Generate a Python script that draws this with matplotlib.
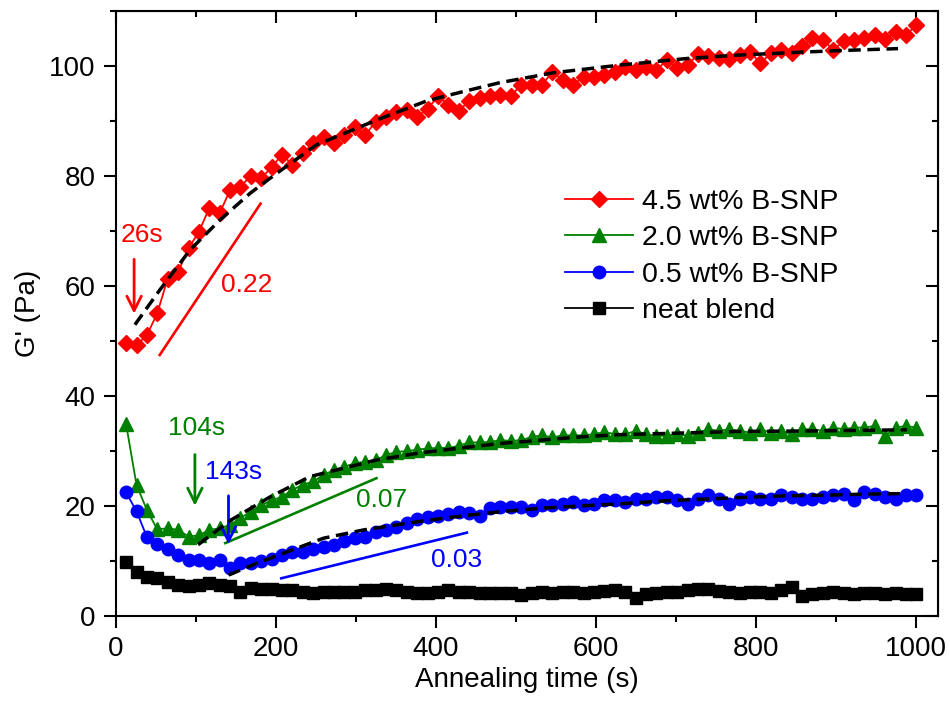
import matplotlib
matplotlib.use("Agg")
import matplotlib.pyplot as plt
from matplotlib.ticker import MultipleLocator

plt.rcParams["font.family"] = ["Liberation Sans", "DejaVu Sans"]

# annealing time of each sweep (s)
TIME = [13, 26, 39, 52, 65, 78, 91, 104, 117, 130, 143, 156, 169, 182, 195,
        208, 221, 234, 247, 260, 273, 286, 299, 312, 325, 338, 351, 364, 377,
        390, 403, 416, 429, 442, 455, 468, 481, 494, 507, 520, 533, 546, 559,
        572, 585, 598, 611, 624, 637, 650, 663, 676, 689, 702, 715, 728, 741,
        754, 767, 780, 793, 806, 819, 832, 845, 858, 871, 884, 897, 910, 923,
        936, 949, 962, 975, 988, 1001]

# storage modulus G' (Pa)
G_45 = [49.6, 49.2, 51.0, 55.0, 61.3, 62.5, 66.8, 69.8, 74.1, 73.2, 77.4, 78.0,
        80.0, 79.5, 81.6, 83.8, 82.0, 84.1, 85.9, 87.1, 85.9, 87.4, 88.9, 87.4,
        89.8, 90.7, 91.6, 92.0, 90.7, 92.2, 94.4, 92.9, 91.8, 93.6, 94.1, 94.4,
        94.7, 94.5, 96.5, 96.5, 96.5, 98.9, 97.4, 96.5, 98.0, 98.0, 98.3, 98.9,
        99.8, 99.2, 99.8, 99.2, 101.0, 99.5, 100.1, 102.1, 101.7, 101.4, 101.3,
        101.9, 102.5, 100.4, 102.3, 102.9, 102.3, 103.5, 105.0, 104.7, 102.9,
        104.4, 104.7, 105.0, 105.6, 104.8, 106.2, 105.6, 107.4]
G_20 = [34.8, 23.8, 19.2, 15.7, 15.9, 15.6, 14.4, 14.6, 15.6, 15.9, 16.5, 17.8,
        18.9, 20.1, 21.0, 21.6, 22.9, 23.8, 24.4, 25.6, 26.5, 27.1, 27.7, 28.0,
        28.3, 29.2, 29.8, 29.9, 30.2, 30.4, 30.5, 30.5, 30.9, 31.5, 31.5, 31.6,
        31.9, 31.8, 31.9, 32.5, 32.8, 32.4, 32.8, 32.8, 32.8, 33.0, 33.4, 33.0,
        33.0, 33.6, 33.0, 32.7, 32.7, 33.0, 32.7, 33.3, 33.9, 33.6, 33.9, 33.6,
        33.3, 33.9, 33.3, 33.6, 33.0, 33.9, 33.9, 33.6, 34.2, 33.9, 34.2, 34.2,
        34.5, 32.7, 34.2, 34.5, 34.2]
G_05 = [22.4, 19.0, 14.3, 13.0, 12.2, 11.0, 10.2, 10.2, 9.5, 10.1, 8.6, 9.5,
        9.6, 9.9, 10.4, 11.0, 11.6, 11.6, 12.2, 12.5, 12.9, 13.5, 14.1, 14.4,
        15.3, 15.6, 16.2, 16.9, 17.5, 17.9, 18.2, 18.5, 18.8, 18.6, 18.1, 19.5,
        19.8, 19.8, 19.8, 19.2, 20.1, 20.1, 20.4, 20.7, 20.1, 20.4, 21.0, 21.0,
        20.7, 21.3, 21.3, 21.6, 21.5, 21.0, 20.4, 21.3, 21.9, 21.3, 20.4, 21.3,
        21.6, 21.3, 21.3, 21.9, 21.6, 21.3, 21.3, 21.6, 21.9, 22.2, 21.0, 22.5,
        22.2, 21.6, 21.3, 21.9, 21.9]
G_NEAT = [9.8, 8.0, 7.1, 6.8, 6.2, 5.6, 5.4, 5.6, 5.9, 5.6, 5.4, 4.4, 5.0, 4.8,
          4.8, 4.7, 4.7, 4.4, 4.2, 4.4, 4.4, 4.4, 4.4, 4.7, 4.7, 4.8, 4.7, 4.4,
          4.2, 4.2, 4.4, 4.7, 4.4, 4.4, 4.1, 4.1, 4.1, 4.2, 3.8, 4.1, 4.3, 4.2,
          4.3, 4.4, 4.2, 4.3, 4.5, 4.6, 4.4, 3.3, 3.9, 4.2, 4.3, 4.4, 4.6, 4.9,
          4.8, 4.5, 4.3, 4.2, 4.4, 4.3, 4.2, 4.6, 5.2, 3.6, 4.0, 4.2, 4.3, 4.1,
          4.0, 4.2, 4.1, 4.0, 4.1, 4.0, 4.0]

# fitted curves
FIT_T_45 = [24, 55, 93, 130, 168, 201, 251, 326, 389, 432, 480, 547, 630, 714,
            776, 864, 918, 978]
FIT_G_45 = [52.9, 59.2, 66.5, 71.9, 76.8, 80.4, 85.6, 90.1, 93.6, 95.2, 96.9,
            98.7, 100.1, 101.3, 101.9, 102.5, 102.8, 103.1]
FIT_T_20 = [103, 143, 193, 243, 326, 380, 426, 480, 530, 580, 626, 680, 776,
            876, 989]
FIT_G_20 = [12.9, 17.3, 21.6, 25.3, 28.3, 29.6, 30.4, 31.3, 31.9, 32.5, 32.9,
            33.1, 33.5, 33.6, 33.8]
FIT_T_05 = [141, 176, 214, 260, 310, 387, 437, 487, 537, 587, 637, 689, 737,
            784, 837, 884, 935, 984]
FIT_G_05 = [7.4, 9.5, 11.6, 14.1, 15.6, 17.3, 18.2, 19.0, 19.6, 20.0, 20.4,
            20.9, 21.2, 21.5, 21.8, 21.9, 22.1, 22.2]

# slope guide lines (t0, G0, t1, G1) and their labels
SLOPE_45 = [55, 47.4, 181, 74.9]
SLOPE_20 = [137, 13.2, 326, 25.0]
SLOPE_05 = [207, 6.8, 439, 15.1]
SLOPE_TEXT = ["0.22", "0.07", "0.03"]
ONSET_TEXT = ["26s", "104s", "143s"]

RED, GREEN, BLUE, BLACK = "#ff0000", "#008000", "#0000ff", "#000000"

fig = plt.figure(figsize=(9.5, 7.1), dpi=100)
ax = fig.add_axes([0.1218, 0.1328, 0.8656, 0.8522])

ax.plot(TIME, G_45, color=RED, marker="D", ms=8.5, lw=1.3, label="4.5 wt% B-SNP", zorder=3)
ax.plot(TIME, G_20, color=GREEN, marker="^", ms=10, lw=1.3, label="2.0 wt% B-SNP", zorder=3)
ax.plot(TIME, G_05, color=BLUE, marker="o", ms=9, lw=1.3, label="0.5 wt% B-SNP", zorder=3)
ax.plot(TIME, G_NEAT, color=BLACK, marker="s", ms=8, lw=1.3, label="neat blend", zorder=3)

for ft, fg in [(FIT_T_45, FIT_G_45), (FIT_T_20, FIT_G_20), (FIT_T_05, FIT_G_05)]:
    ax.plot(ft, fg, color="black", lw=2.5, dashes=(3.6, 1.9), zorder=4)

# slope guides
for seg, col in [(SLOPE_45, RED), (SLOPE_20, GREEN), (SLOPE_05, BLUE)]:
    ax.plot([seg[0], seg[2]], [seg[1], seg[3]], color=col, lw=1.9, zorder=2)
ax.text(164, 60.1, SLOPE_TEXT[0], color=RED, fontsize=19, ha="center", va="center")
ax.text(333, 21.0, SLOPE_TEXT[1], color=GREEN, fontsize=19, ha="center", va="center")
ax.text(426, 10.1, SLOPE_TEXT[2], color=BLUE, fontsize=19, ha="center", va="center")

# onset arrows
arrow_kw = dict(arrowstyle="->", lw=2.0, mutation_scale=26)
ax.annotate("", xy=(23, 54.4), xytext=(23, 65.3),
            arrowprops=dict(color=RED, **arrow_kw))
ax.text(32.5, 69.3, ONSET_TEXT[0], color=RED, fontsize=19, ha="center", va="center")
ax.annotate("", xy=(99, 19.5), xytext=(99, 29.8),
            arrowprops=dict(color=GREEN, **arrow_kw))
ax.text(101, 34.1, ONSET_TEXT[1], color=GREEN, fontsize=19, ha="center", va="center")
ax.annotate("", xy=(141, 12.5), xytext=(141, 22.3),
            arrowprops=dict(color=BLUE, **arrow_kw))
ax.text(147, 26.2, ONSET_TEXT[2], color=BLUE, fontsize=19, ha="center", va="center")

ax.set_xlim(0, 1028)
ax.set_ylim(0, 110)
ax.xaxis.set_major_locator(MultipleLocator(200))
ax.xaxis.set_minor_locator(MultipleLocator(100))
ax.yaxis.set_major_locator(MultipleLocator(20))
ax.yaxis.set_minor_locator(MultipleLocator(10))
ax.tick_params(which="both", direction="out", width=1.5, labelsize=20, pad=6)
ax.tick_params(which="major", length=8.5)
ax.tick_params(which="minor", length=4.5)
for sp in ax.spines.values():
    sp.set_linewidth(1.5)

# mirrored ticks on top and right, pointing inward
top = ax.secondary_xaxis("top")
top.xaxis.set_major_locator(MultipleLocator(200))
top.xaxis.set_minor_locator(MultipleLocator(100))
top.tick_params(which="both", direction="in", width=1.5, labeltop=False)
top.tick_params(which="major", length=8.5)
top.tick_params(which="minor", length=4.5)
right = ax.secondary_yaxis("right")
right.yaxis.set_major_locator(MultipleLocator(20))
right.yaxis.set_minor_locator(MultipleLocator(10))
right.tick_params(which="both", direction="in", width=1.5, labelright=False)
right.tick_params(which="major", length=8.5)
right.tick_params(which="minor", length=4.5)

ax.set_xlabel("Annealing time (s)", fontsize=20, labelpad=4)
ax.set_ylabel("G' (Pa)", fontsize=20, labelpad=6)

ax.legend(loc="upper left", bbox_to_anchor=(565 / 950, 1 - 189 / 710),
          bbox_transform=fig.transFigure, frameon=False, fontsize=20.5,
          borderpad=0, borderaxespad=0, handlelength=2.4, handletextpad=0.3,
          labelspacing=0.36)

fig.savefig("out.png", dpi=100)
